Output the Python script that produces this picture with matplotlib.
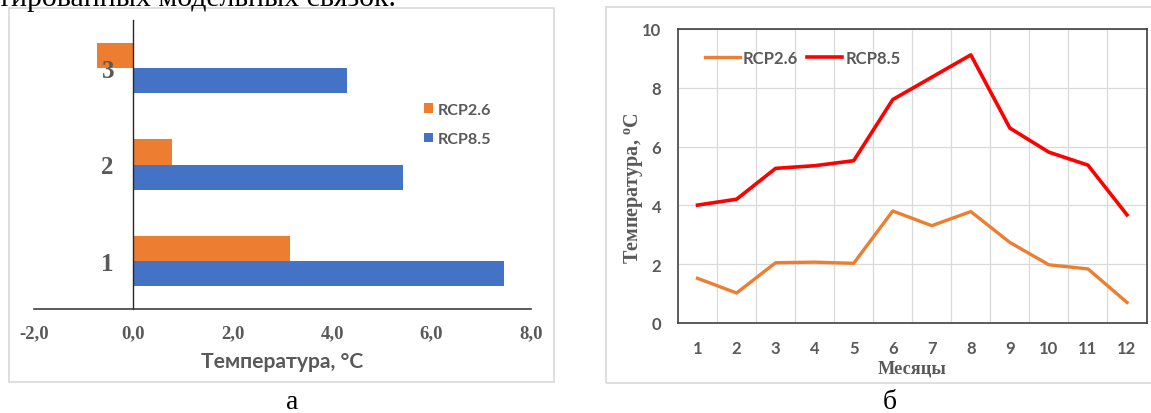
import matplotlib
matplotlib.use("Agg")
import matplotlib.pyplot as plt
from matplotlib.patches import Rectangle
import numpy as np

# ---- data: left panel (bar chart)
bar_categories = ["1", "2", "3"]
rcp26_bar = [3.15, 0.77, -0.73]
rcp85_bar = [7.46, 5.43, 4.30]
bar_xticks = [-2, 0, 2, 4, 6, 8]
bar_xticklabels = ["-2,0", "0,0", "2,0", "4,0", "6,0", "8,0"]

# ---- data: right panel (line chart)
months = [1, 2, 3, 4, 5, 6, 7, 8, 9, 10, 11, 12]
rcp26_line = [1.52, 1.02, 2.05, 2.07, 2.03, 3.81, 3.31, 3.79, 2.74, 1.98, 1.84, 0.70]
rcp85_line = [4.01, 4.21, 5.26, 5.35, 5.52, 7.60, 8.36, 9.12, 6.63, 5.81, 5.37, 3.68]
line_yticks = [0, 2, 4, 6, 8, 10]

ORANGE = "#ED7D31"
BLUE = "#4472C4"
RED = "#FF0000"
GREY = "#595959"
SANS = ["Lato", "DejaVu Sans"]
SERIF = ["Liberation Serif", "DejaVu Serif"]

W, H = 1151, 414
fig = plt.figure(figsize=(W / 100, H / 100), dpi=100)

def fx(px):
    return px / W

def fy(py):
    return 1 - py / H

# panel borders
fig.patches.append(Rectangle((fx(9), fy(383)), fx(545), (383 - 9) / H,
                             transform=fig.transFigure, fill=False,
                             edgecolor="#d9d9d9", linewidth=1.2))
fig.patches.append(Rectangle((fx(606), fy(384)), fx(560), (384 - 8) / H,
                             transform=fig.transFigure, fill=False,
                             edgecolor="#d9d9d9", linewidth=1.2))

# cut-off text at top
fig.text(fx(-2), fy(5.5), "тированных модельных связок.", family=SERIF,
         fontsize=21.5, ha="left", va="baseline", color="black")

# ---------------- left panel
ax1 = fig.add_axes([fx(34), fy(310), fx(497), (310 - 21) / H])
y = np.arange(len(bar_categories)) + 1
h = 0.26
ax1.barh(y + h / 2, rcp26_bar, height=h, color=ORANGE, label="RCP2.6")
ax1.barh(y - h / 2, rcp85_bar, height=h, color=BLUE, label="RCP8.5")
ax1.set_xlim(-2, 8)
ax1.set_ylim(0.5, 3.5)
for s in ["top", "right"]:
    ax1.spines[s].set_visible(False)
ax1.spines["left"].set_position(("data", 0))
ax1.spines["left"].set_color("#262626")
ax1.spines["left"].set_linewidth(1.0)
ax1.spines["bottom"].set_color("#404040")
ax1.spines["bottom"].set_linewidth(1.2)
ax1.set_yticks(y)
ax1.set_yticklabels(bar_categories, family=SERIF, fontweight="bold",
                    fontsize=18, color=GREY)
ax1.tick_params(axis="y", length=0, pad=14)
ax1.set_xticks(bar_xticks)
ax1.set_xticklabels(bar_xticklabels, family=SERIF, fontweight="bold",
                    fontsize=13.5, color=GREY)
ax1.tick_params(axis="x", length=0, pad=11)
ax1.set_xlabel("Температура, °C", family=SANS, fontweight="bold",
               fontsize=15.2, color=GREY, labelpad=7)
leg1 = ax1.legend(loc="center left",
                  bbox_to_anchor=((424 - 34) / 497, (310 - 125.5) / 289),
                  frameon=False, prop={"family": SANS, "weight": "bold", "size": 11.6},
                  handlelength=0.55, handleheight=0.55, handletextpad=0.3,
                  labelspacing=0.95, borderpad=0, borderaxespad=0)
for t in leg1.get_texts():
    t.set_color(GREY)

# ---------------- right panel
ax2 = fig.add_axes([fx(678), fy(324), fx(468.5), (324 - 30) / H])
ax2.plot(months, rcp26_line, color=ORANGE, linewidth=2.4, label="RCP2.6",
         solid_joinstyle="round")
ax2.plot(months, rcp85_line, color=RED, linewidth=2.6, label="RCP8.5",
         solid_joinstyle="round")
ax2.set_xlim(0.5, 12.5)
ax2.set_ylim(0, 10)
ax2.set_xticks(months)
ax2.set_xticks(np.arange(1.5, 12, 1), minor=True)
ax2.set_yticks(line_yticks)
ax2.grid(axis="x", which="minor", color="#d9d9d9", linewidth=0.9)
ax2.grid(axis="y", which="major", color="#d9d9d9", linewidth=0.9)
ax2.set_axisbelow(True)
for s in ax2.spines.values():
    s.set_color("#404040")
    s.set_linewidth(1.2)
ax2.tick_params(which="both", length=0)
ax2.tick_params(axis="x", pad=12)
ax2.tick_params(axis="y", pad=12)
for lab in ax2.get_xticklabels() + ax2.get_yticklabels():
    lab.set_family(SANS)
    lab.set_fontweight("bold")
    lab.set_fontsize(12)
    lab.set_color(GREY)
ax2.set_xlabel("Месяцы", family=SERIF, fontweight="bold", fontsize=13.2,
               color=GREY, labelpad=3)
ax2.set_ylabel(r"Температура, $^{\mathregular{o}}$C", family=SERIF,
               fontweight="bold", fontsize=14.5, color=GREY)
ax2.yaxis.set_label_coords(-0.068, 0.464)
leg2 = ax2.legend(loc="center left", bbox_to_anchor=((705 - 678) / 468.5, (324 - 59.3) / 294),
                  ncol=2, frameon=False,
                  prop={"family": SANS, "weight": "bold", "size": 12},
                  handlelength=2.1, handletextpad=0.18, columnspacing=0.55,
                  borderpad=0, borderaxespad=0)
for t in leg2.get_texts():
    t.set_color(GREY)

# sub-captions
fig.text(fx(292), fy(403), "а", family=SERIF, fontsize=20, ha="center", va="center")
fig.text(fx(890), fy(403), "б", family=SERIF, fontsize=20, ha="center", va="center")

fig.savefig("out.png", dpi=100)
